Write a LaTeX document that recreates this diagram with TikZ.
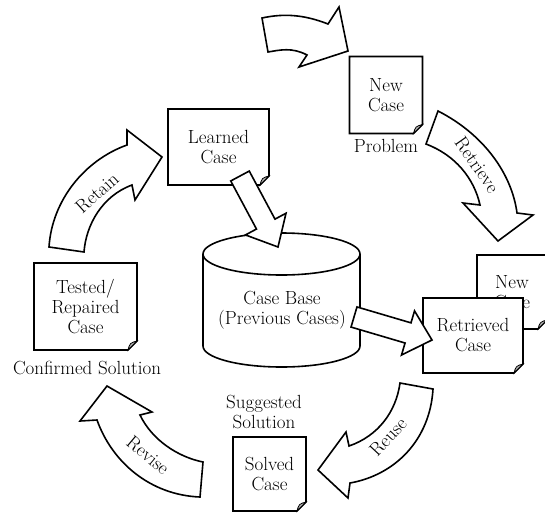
\documentclass[tikz,border=0pt]{standalone}
\usepackage{fontspec}
\usetikzlibrary{calc}
\newcommand\lbl{\fontsize{19}{20}\selectfont\addfontfeatures{FakeBold=0.4}}
\newcommand\arrlbl{\fontsize{19}{20}\selectfont\addfontfeatures{LetterSpace=12,FakeBold=0.4}}
\tikzset{
  outl/.style={draw=black, fill=white, line width=1.6pt, line join=miter},
  curl/.style={draw=black, fill=gray!60, line width=0.8pt},
  txt/.style={font=\lbl, align=center, inner sep=0pt},
  alab/.style={font=\arrlbl, inner sep=0pt},
}
% name, cx, cy, w, h, text
\newcommand\docbox[6]{%
  \filldraw[outl] ({#2-#4/2},{#3-#5/2}) -- ({#2+#4/2},{#3-#5/2}) -- ({#2+#4/2},{#3+#5/2-9}) -- ({#2+#4/2-9},{#3+#5/2}) -- ({#2-#4/2},{#3+#5/2}) -- cycle;
  \filldraw[curl] ({#2+#4/2},{#3+#5/2-9}) .. controls ({#2+#4/2-7},{#3+#5/2-7}) .. ({#2+#4/2-9},{#3+#5/2}) -- cycle;
  \node[txt, minimum width=#4, minimum height=#5] (#1) at (#2,#3) {#6};
}
% from, to, halfshaft, halfhead, headlen
\newcommand\fatarrow[5]{%
  \coordinate (fa-h) at ($(#2)!#5!(#1)$);
  \filldraw[outl] ($(#1)!#3!90:(#2)$) -- ($(fa-h)!#3!90:(#2)$) -- ($(fa-h)!#4!90:(#2)$) -- (#2) -- ($(fa-h)!#4!-90:(#2)$) -- ($(fa-h)!#3!-90:(#2)$) -- ($(#1)!#3!-90:(#2)$) -- cycle;
}
\begin{document}
\begin{tikzpicture}[x=1pt,y=-1pt]
\useasboundingbox (0,0) rectangle (545,512);

% top arrow (entering new problem)
\filldraw[outl] (262,18) .. controls (285,13) and (305,15) .. (328,24) -- (339,7) -- (348,51) -- (299,67) -- (307,55) .. controls (292,47) and (280,50) .. (268,52) -- cycle;

% New Case (problem)
\docbox{newcase}{386}{95}{73}{77}{New\\Case}
\node[txt] (problem) at (386,146) {Problem};

% Retrieve arrow
\filldraw[outl] (426,144) -- (438,111) .. controls (485,135) and (512,175) .. (517,213) -- (533,215) -- (498,241) -- (463,203) -- (480,205) .. controls (474,178) and (455,155) .. (426,144) -- cycle;
\node[alab, rotate=-55] (retrieve) at (477,165) {Retrieve};

% New case (behind), Retrieved case
\docbox{newback}{512}{292}{70}{74}{New\\Case}
\docbox{retrieved}{473}{335.5}{100}{75}{Retrieved\\Case}

% Learned case
\docbox{learned}{218.5}{147}{101}{76}{Learned\\Case}

% Case base cylinder
\filldraw[outl] (203,254) -- (203,346) arc[start angle=180,end angle=0,x radius=78.5,y radius=21] -- (360,254) arc[start angle=0,end angle=-180,x radius=78.5,y radius=21] -- cycle;
\draw[line width=1.6pt] (203,254) arc[start angle=180,end angle=0,x radius=78.5,y radius=21];
\node[txt] (casebase) at (282,310) {Case Base\\(Previous Cases)};

% Learned -> case base
\coordinate (lcS) at (240,176);
\coordinate (lcT) at (278,247);
\fatarrow{lcS}{lcT}{10.5pt}{23pt}{26pt}

% case base -> retrieved
\coordinate (cbS) at (354,317);
\coordinate (cbT) at (432,340);
\fatarrow{cbS}{cbT}{10.5pt}{23pt}{25pt}

% Reuse arrow
\filldraw[outl] (400,383) -- (433,389) .. controls (430,440) and (395,475) .. (350,483) -- (348,498) -- (318,470) -- (346,432) -- (349,446) .. controls (378,436) and (396,412) .. (400,383) -- cycle;
\node[alab, rotate=47] (reuse) at (388,437) {Reuse};

% Solved case
\node[txt] (suggested) at (264,412) {Suggested\\Solution};
\docbox{solved}{269.5}{474}{73}{74}{Solved\\Case}

% Revise arrow
\filldraw[outl] (203,462) -- (200,497) .. controls (150,495) and (112,462) .. (97,420) -- (80,421) -- (107,386) -- (152,412) -- (140,415) .. controls (152,440) and (178,457) .. (203,462) -- cycle;
\node[alab, rotate=-40] (revise) at (148,455) {Revise};

% Tested / repaired
\docbox{tested}{85.5}{306.5}{103}{87}{Tested/\\Repaired\\Case}
\node[txt] (confirmed) at (87,368) {Confirmed Solution};

% Retain arrow
\filldraw[outl] (49,247) .. controls (52,200) and (85,160) .. (127,145) -- (127,130) -- (162,157) -- (135,200) -- (132,185) .. controls (102,196) and (86,225) .. (84,252) -- cycle;
\node[alab, rotate=42] (retain) at (97,193) {Retain};
\end{tikzpicture}
\end{document}
